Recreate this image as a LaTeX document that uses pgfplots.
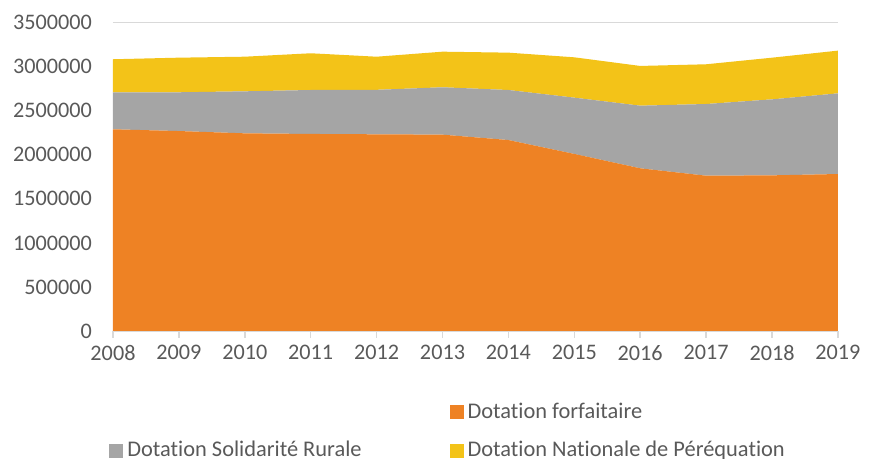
\documentclass[border=0pt]{standalone}
\usepackage{fontspec}
\setmainfont[Ligatures={NoCommon}]{Carlito}
\usepackage{pgfplots}
\pgfplotsset{compat=1.18}
\definecolor{cF}{HTML}{EE8224}
\definecolor{cS}{HTML}{A5A5A5}
\definecolor{cN}{HTML}{F3C318}
\definecolor{txt}{HTML}{595959}
\definecolor{grd}{HTML}{D9D9D9}
\begin{document}
\begin{tikzpicture}
\begin{axis}[
 at={(0,0)}, anchor=south west,
 scale only axis, width=362.5pt, height=154.15pt,
 xmin=2008, xmax=2019, ymin=0, ymax=3500000,
 xtick={2008,2009,...,2019}, ytick={0,500000,...,3500000},
 axis x line*=bottom, axis y line*=left,
 y axis line style={draw=none},
 x axis line style={draw=grd, line width=0.75pt},
 ymajorgrids, grid style={draw=grd, line width=0.75pt},
 ytick style={draw=none},
 xtick style={draw=grd, line width=0.75pt},
 tick align=outside, major tick length=3.5pt,
 font=\fontsize{11.1}{13}\selectfont,
 tick label style={text=txt, font=\fontsize{11.1}{13}\selectfont},
 /pgf/number format/assume math mode=true,
 /pgf/number format/1000 sep={},
 scaled y ticks=false,
 yticklabel style={/pgf/number format/fixed, xshift=-3.5pt},
 stack plots=y,
 legend columns=2,
 legend cell align=left,
 legend image code/.code={\fill[#1,draw=none] (0pt,-3.5pt) rectangle (7pt,3.5pt);},
 legend style={at={(-0.0138,-0.206)}, anchor=north west, draw=none, fill=none,
   font=\fontsize{11.2}{13}\selectfont, text=txt, row sep=6pt,
   /tikz/every even column/.append style={column sep=42pt}},
]
\addlegendimage{empty legend}
\addlegendentry{\mbox{}}
\addplot[fill=cF, draw=none] coordinates {
(2008,2290000) (2009,2270000) (2010,2244000) (2011,2237000) (2012,2233000) (2013,2229000)
(2014,2168000) (2015,2010000) (2016,1847000) (2017,1763000) (2018,1767000) (2019,1782000)} \closedcycle;
\addlegendentry{Dotation forfaitaire}
\addplot[fill=cS, draw=none] coordinates {
(2008,420000) (2009,440000) (2010,477000) (2011,499000) (2012,505000) (2013,538000)
(2014,568000) (2015,639000) (2016,711000) (2017,814000) (2018,863000) (2019,916000)} \closedcycle;
\addlegendentry{Dotation Solidarité Rurale}
\addplot[fill=cN, draw=none] coordinates {
(2008,375000) (2009,393000) (2010,393000) (2011,417000) (2012,376000) (2013,404000)
(2014,424000) (2015,458000) (2016,451000) (2017,451000) (2018,473000) (2019,485000)} \closedcycle;
\addlegendentry{Dotation Nationale de Péréquation}
\end{axis}
\pgfresetboundingbox
\path[use as bounding box] (-56.5pt,-64pt) rectangle (383.5pt,165.5pt);
\end{tikzpicture}
\end{document}
